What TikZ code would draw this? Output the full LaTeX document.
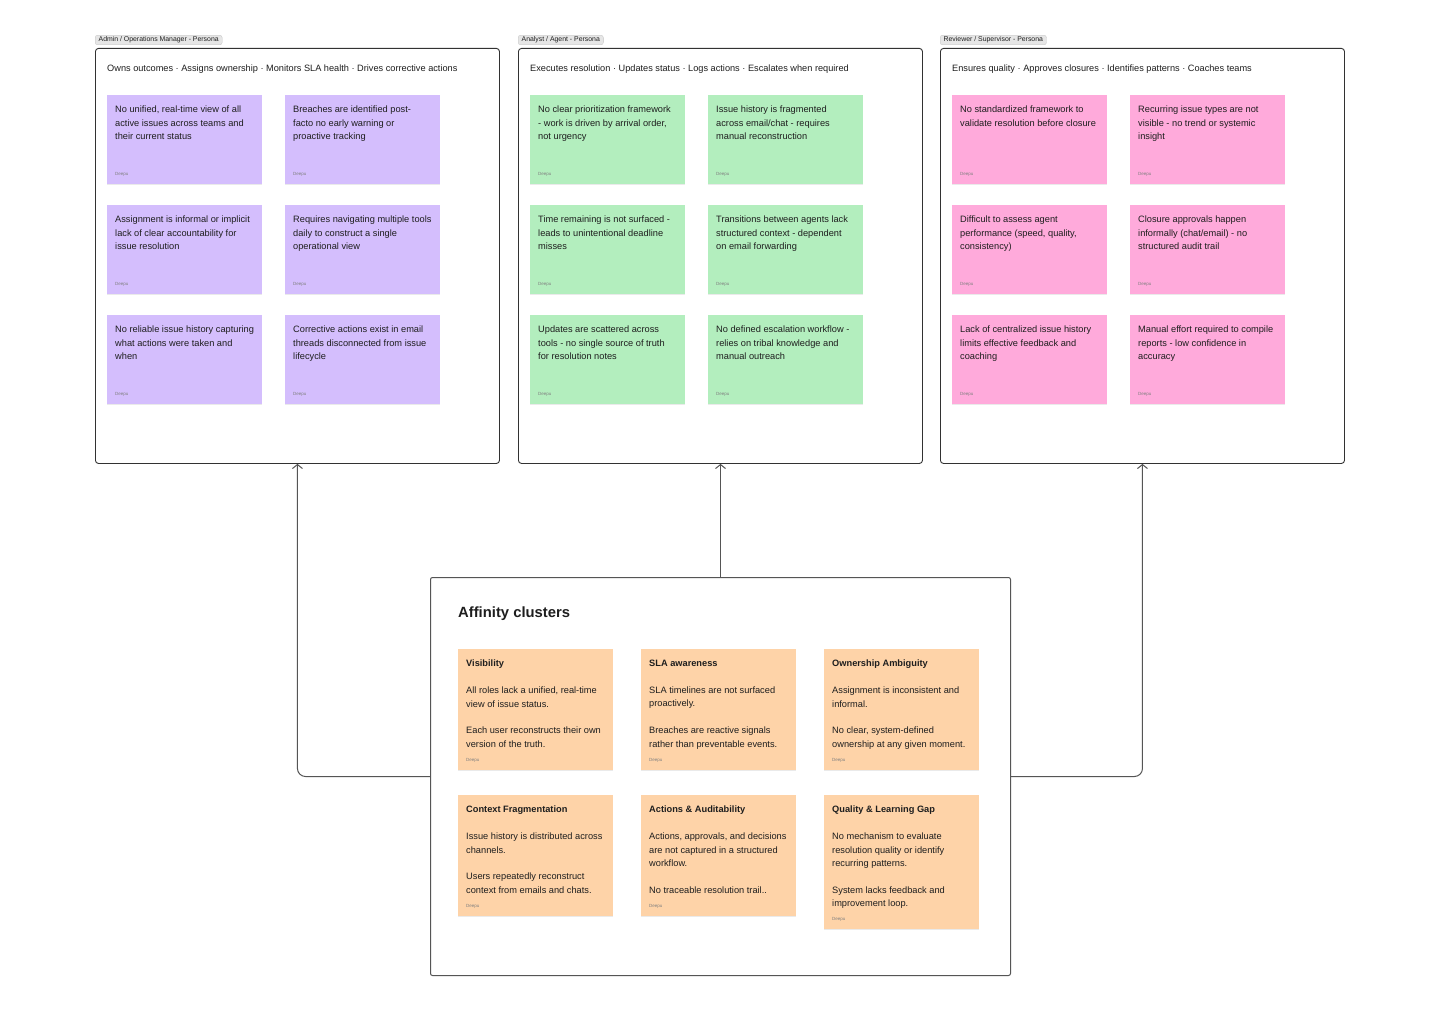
\documentclass[tikz,border=0pt]{standalone}
\usepackage{fontspec}
\setmainfont{Liberation Sans}
\usetikzlibrary{arrows.meta,shadows}
\definecolor{purp}{RGB}{212,190,253}
\definecolor{grn}{RGB}{179,238,190}
\definecolor{pnk}{RGB}{255,170,219}
\definecolor{orng}{RGB}{254,211,168}
\definecolor{ink}{RGB}{30,30,30}
\definecolor{frame}{RGB}{50,50,50}
\definecolor{conncol}{RGB}{85,85,85}
\definecolor{tagfill}{RGB}{230,230,230}
\tikzset{
  note/.style={draw=none, anchor=north west, minimum width=155pt, inner sep=0pt,
    drop shadow={shadow xshift=0pt, shadow yshift=-1.2pt, opacity=0.16}},
  notetext/.style={anchor=north west, inner sep=0pt, align=left,
    font=\fontsize{9.25}{13.4}\selectfont, text=ink},
  author/.style={anchor=west, inner sep=0pt, font=\fontsize{4.5}{5}\selectfont, text=gray},
  persona/.style={draw=frame, line width=0.9pt, rounded corners=3pt, minimum width=404pt,
    minimum height=415pt, anchor=north west, inner sep=0pt},
  tag/.style={fill=tagfill, draw=tagfill!85!black, line width=0.3pt, rounded corners=2.5pt, anchor=south west,
    inner xsep=3.5pt, inner ysep=1.6pt, font=\fontsize{6.9}{8}\selectfont, text=ink},
  subtitle/.style={anchor=west, inner sep=0pt, font=\fontsize{9.2}{11}\selectfont, text=ink},
  conn/.style={draw=conncol, line width=1pt, rounded corners=8pt,
    -{Straight Barb[length=4pt,width=10pt]}},
}
\newcommand\sticky[6]{%
  \node[note, fill=#5, minimum height=#4pt] (#1) at (#2,#3) {};
  \node[notetext] (#1t) at ([xshift=8pt,yshift=-11pt]#1.north west) {#6};
  \node[author] (#1a) at ([xshift=8pt,yshift=10pt]#1.south west) {Deepu};
}
\begin{document}
\begin{tikzpicture}[x=1pt,y=-1pt]
\useasboundingbox[fill=white] (0,0) rectangle (1440,1024);

% persona frames
\node[persona] (p1) at (95,48) {};
\node[persona] (p2) at (518,48) {};
\node[persona] (p3) at (940,48) {};
\node[tag] (t1) at (95,45) {Admin / Operations Manager - Persona};
\node[tag] (t2) at (518,45) {Analyst / Agent - Persona};
\node[tag] (t3) at (940,45) {Reviewer / Supervisor - Persona};
\node[subtitle] (s1) at (107,69) {Owns outcomes · Assigns ownership · Monitors SLA health · Drives corrective actions};
\node[subtitle] (s2) at (530,69) {Executes resolution · Updates status · Logs actions · Escalates when required};
\node[subtitle] (s3) at (952,69) {Ensures quality · Approves closures · Identifies patterns · Coaches teams};

% purple
\sticky{a1}{107}{95}{89}{purp}{No unified, real-time view of all\\active issues across teams and\\their current status}
\sticky{a2}{285}{95}{89}{purp}{Breaches are identified post-\\facto no early warning or\\proactive tracking}
\sticky{a3}{107}{205}{89}{purp}{Assignment is informal or implicit\\lack of clear accountability for\\issue resolution}
\sticky{a4}{285}{205}{89}{purp}{Requires navigating multiple tools\\daily to construct a single\\operational view}
\sticky{a5}{107}{315}{89}{purp}{No reliable issue history capturing\\what actions were taken and\\when}
\sticky{a6}{285}{315}{89}{purp}{Corrective actions exist in email\\threads disconnected from issue\\lifecycle}

% green
\sticky{b1}{530}{95}{89}{grn}{No clear prioritization framework\\- work is driven by arrival order,\\not urgency}
\sticky{b2}{708}{95}{89}{grn}{Issue history is fragmented\\across email/chat - requires\\manual reconstruction}
\sticky{b3}{530}{205}{89}{grn}{Time remaining is not surfaced -\\leads to unintentional deadline\\misses}
\sticky{b4}{708}{205}{89}{grn}{Transitions between agents lack\\structured context - dependent\\on email forwarding}
\sticky{b5}{530}{315}{89}{grn}{Updates are scattered across\\tools - no single source of truth\\for resolution notes}
\sticky{b6}{708}{315}{89}{grn}{No defined escalation workflow -\\relies on tribal knowledge and\\manual outreach}

% pink
\sticky{c1}{952}{95}{89}{pnk}{No standardized framework to\\validate resolution before closure}
\sticky{c2}{1130}{95}{89}{pnk}{Recurring issue types are not\\visible - no trend or systemic\\insight}
\sticky{c3}{952}{205}{89}{pnk}{Difficult to assess agent\\performance (speed, quality,\\consistency)}
\sticky{c4}{1130}{205}{89}{pnk}{Closure approvals happen\\informally (chat/email) - no\\structured audit trail}
\sticky{c5}{952}{315}{89}{pnk}{Lack of centralized issue history\\limits effective feedback and\\coaching}
\sticky{c6}{1130}{315}{89}{pnk}{Manual effort required to compile\\reports - low confidence in\\accuracy}

% affinity clusters
\node[draw=conncol, line width=1pt, rounded corners=2pt, minimum width=580pt, minimum height=398pt,
  anchor=north west, inner sep=0pt] (aff) at (430,577) {};
\node[anchor=west, inner sep=0pt, font=\fontsize{14.8}{16}\selectfont\bfseries, text=ink] (afft) at (458,614) {Affinity clusters};

\sticky{d1}{458}{649}{121}{orng}{\textbf{Visibility}\\[13.4pt]All roles lack a unified, real-time\\view of issue status.\\[13.4pt]Each user reconstructs their own\\version of the truth.}
\sticky{d2}{641}{649}{121}{orng}{\textbf{SLA awareness}\\[13.4pt]SLA timelines are not surfaced\\proactively.\\[13.4pt]Breaches are reactive signals\\rather than preventable events.}
\sticky{d3}{824}{649}{121}{orng}{\textbf{Ownership Ambiguity}\\[13.4pt]Assignment is inconsistent and\\informal.\\[13.4pt]No clear, system-defined\\ownership at any given moment.}
\sticky{d4}{458}{795}{121}{orng}{\textbf{Context Fragmentation}\\[13.4pt]Issue history is distributed across\\channels.\\[13.4pt]Users repeatedly reconstruct\\context from emails and chats.}
\sticky{d5}{641}{795}{121}{orng}{\textbf{Actions \& Auditability}\\[13.4pt]Actions, approvals, and decisions\\are not captured in a structured\\workflow.\\[13.4pt]No traceable resolution trail..}
\sticky{d6}{824}{795}{134}{orng}{\textbf{Quality \& Learning Gap}\\[13.4pt]No mechanism to evaluate\\resolution quality or identify\\recurring patterns.\\[13.4pt]System lacks feedback and\\improvement loop.}

% connectors
\draw[conn] (aff.west) -| (p1.south);
\draw[conn] (aff.north) -- (aff.north |- p2.south);
\draw[conn] (aff.east) -| (p3.south);
\end{tikzpicture}
\end{document}
